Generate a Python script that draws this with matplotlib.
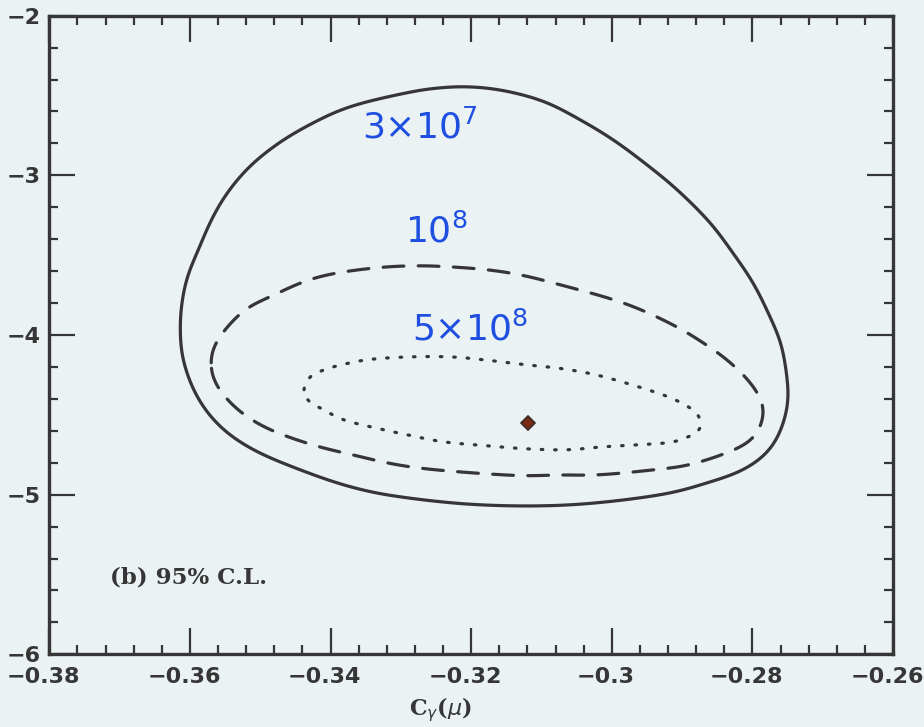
import matplotlib
matplotlib.use("Agg")
import matplotlib.pyplot as plt
import matplotlib.transforms as mtransforms
from matplotlib.patches import Polygon
import numpy as np
from matplotlib.ticker import MultipleLocator, FixedLocator

# ---------------- data ----------------
solid_x = [-0.3614, -0.3611, -0.3603, -0.3588, -0.3571, -0.3550, -0.3520, -0.3485,
           -0.3443, -0.3377, -0.3291, -0.3244, -0.3201, -0.3152, -0.3095, -0.3045,
           -0.2998, -0.2950, -0.2907, -0.2860, -0.2828, -0.2799, -0.2775, -0.2758,
           -0.2749, -0.2751, -0.2761, -0.2779, -0.2813, -0.2860, -0.2931, -0.3059,
           -0.3187, -0.3301, -0.3372, -0.3443, -0.3510, -0.3557, -0.3590, -0.3610]
solid_y = [-3.949, -3.780, -3.623, -3.466, -3.291, -3.128, -2.965, -2.833,
           -2.714, -2.576, -2.482, -2.451, -2.445, -2.470, -2.539, -2.652,
           -2.777, -2.934, -3.090, -3.297, -3.485, -3.673, -3.886, -4.074,
           -4.343, -4.469, -4.613, -4.738, -4.845, -4.920, -5.001, -5.064,
           -5.064, -5.014, -4.951, -4.845, -4.719, -4.575, -4.387, -4.155]

dashed_x = [-0.3571, -0.3567, -0.3547, -0.3519, -0.3486, -0.3443, -0.3411, -0.3372,
            -0.3320, -0.3273, -0.3230, -0.3177, -0.3130, -0.3084, -0.2984, -0.2913,
            -0.2870, -0.2836, -0.2806, -0.2789, -0.2783, -0.2786, -0.2800, -0.2836,
            -0.2889, -0.2927, -0.3017, -0.3074, -0.3121, -0.3177, -0.3234, -0.3277,
            -0.3320, -0.3368, -0.3411, -0.3448, -0.3486, -0.3519, -0.3547, -0.3567]
dashed_y = [-4.174, -4.074, -3.949, -3.830, -3.761, -3.673, -3.629, -3.598,
            -3.573, -3.566, -3.573, -3.591, -3.623, -3.673, -3.798, -3.936,
            -4.049, -4.155, -4.281, -4.387, -4.450, -4.550, -4.657, -4.738,
            -4.813, -4.838, -4.876, -4.876, -4.882, -4.870, -4.851, -4.832,
            -4.801, -4.751, -4.707, -4.657, -4.594, -4.513, -4.406, -4.281]

dotted_x = [-0.3439, -0.3429, -0.3412, -0.3396, -0.3348, -0.3287, -0.3230, -0.3183,
            -0.3121, -0.3069, -0.3011, -0.2927, -0.2891, -0.2877, -0.2872, -0.2884,
            -0.2900, -0.2920, -0.3011, -0.3064, -0.3121, -0.3177, -0.3240, -0.3291,
            -0.3330, -0.3382, -0.3412, -0.3429, -0.3439]
dotted_y = [-4.343, -4.256, -4.224, -4.199, -4.155, -4.137, -4.137, -4.155,
            -4.187, -4.212, -4.262, -4.375, -4.450, -4.500, -4.575, -4.625,
            -4.650, -4.675, -4.700, -4.719, -4.713, -4.694, -4.669, -4.625,
            -4.588, -4.531, -4.462, -4.425, -4.368]

best_x = [-0.3119]
best_y = [-4.550]

contour_labels = [r"3$\times$10$^{7}$", r"10$^{8}$", r"5$\times$10$^{8}$"]
label_x = [-0.3273, -0.3250, -0.3202]
label_y = [-2.702, -3.353, -3.967]

x_ticks = [-0.38, -0.36, -0.34, -0.32, -0.30, -0.28, -0.26]
x_ticklabels = ["\u22120.38", "\u22120.36", "\u22120.34", "\u22120.32", "\u22120.3", "\u22120.28", "\u22120.26"]
y_ticks = [-6, -5, -4, -3, -2]
y_ticklabels = ["\u22126", "\u22125", "\u22124", "\u22123", "\u22122"]


def smooth_closed(xs, ys, n=16, sigma=0.012):
    """Closed smooth curve through the read points (drawing only):
    Catmull-Rom, resampled by arc length, then a light circular Gaussian blur."""
    sx, sy = 0.12, 4.0 * 843.7 / 638.3
    p = np.column_stack([np.asarray(xs) / sx, np.asarray(ys) / sy])
    m = len(p)
    out = []
    t = np.linspace(0, 1, n, endpoint=False)[:, None]
    for i in range(m):
        p0, p1, p2, p3 = p[(i - 1) % m], p[i], p[(i + 1) % m], p[(i + 2) % m]
        seg = 0.5 * ((2 * p1) + (-p0 + p2) * t + (2 * p0 - 5 * p1 + 4 * p2 - p3) * t ** 2
                     + (-p0 + 3 * p1 - 3 * p2 + p3) * t ** 3)
        out.append(seg)
    c = np.vstack(out + [p[:1]])
    d = np.r_[0, np.cumsum(np.hypot(*np.diff(c, axis=0).T))]
    L = d[-1]
    N = 1200
    s = np.linspace(0, L, N, endpoint=False)
    u = np.column_stack([np.interp(s, d, c[:, 0]), np.interp(s, d, c[:, 1])])
    ds = L / N
    k = int(np.ceil(3 * sigma / ds))
    off = np.arange(-k, k + 1)
    w = np.exp(-0.5 * (off * ds / sigma) ** 2)
    w /= w.sum()
    sm = np.zeros_like(u)
    for o, wi in zip(off, w):
        sm += wi * np.roll(u, o, axis=0)
    return np.column_stack([sm[:, 0] * sx, sm[:, 1] * sy])


# ---------------- style ----------------
bg = "#eaf2f4"
ink = "#363636"
blue = "#1f4fe0"

fig = plt.figure(figsize=(9.24, 7.27), dpi=100, facecolor=bg)
ax = fig.add_axes([0.0534, 0.1000, 0.9131, 0.8784])
ax.set_facecolor(bg)

ax.add_patch(Polygon(smooth_closed(solid_x, solid_y), closed=True, fill=False,
                     edgecolor=ink, lw=2.3, joinstyle="round"))
ax.add_patch(Polygon(smooth_closed(dashed_x, dashed_y), closed=True, fill=False,
                     edgecolor=ink, lw=2.3, linestyle=(0, (6.5, 4.5)), capstyle="round"))
ax.add_patch(Polygon(smooth_closed(dotted_x, dotted_y, sigma=0.006), closed=True, fill=False,
                     edgecolor=ink, lw=2.3, linestyle=(0, (0.5, 3.7)), capstyle="round"))
ax.plot(best_x, best_y, marker="D", ms=7, color="#7a2a14", mec="#3a2a2a", mew=1.2, ls="none")

for t, x, y in zip(contour_labels, label_x, label_y):
    ax.text(x, y, t, color=blue, fontsize=26, ha="center", va="center",
            family="DejaVu Sans")

ax.text(0.072, 0.121, "(b) 95% C.L.", transform=ax.transAxes, fontsize=16.5,
        fontweight="bold", family="DejaVu Serif", color=ink, ha="left", va="center")

ax.set_xlim(-0.38, -0.26)
ax.set_ylim(-6, -2)
ax.xaxis.set_major_locator(FixedLocator(x_ticks))
ax.yaxis.set_major_locator(FixedLocator(y_ticks))
ax.xaxis.set_minor_locator(MultipleLocator(0.004))
ax.yaxis.set_minor_locator(MultipleLocator(0.2))
ax.set_xticklabels(x_ticklabels)
ax.set_yticklabels(y_ticklabels)

ax.tick_params(which="both", direction="in", top=True, right=True, color=ink)
ax.tick_params(which="major", length=19, width=1.6, labelsize=16, labelcolor=ink)
ax.tick_params(which="minor", length=6.5, width=1.6)
ax.tick_params(axis="x", pad=9)
ax.tick_params(axis="y", pad=6)
shift_x = mtransforms.ScaledTranslation(-6 / 100, 0, fig.dpi_scale_trans)
for lab in ax.get_xticklabels():
    lab.set_fontweight("bold")
    lab.set_transform(lab.get_transform() + shift_x)
for lab in ax.get_yticklabels():
    lab.set_fontweight("bold")
for s in ax.spines.values():
    s.set_linewidth(2.4)
    s.set_color(ink)

fig.text(440 / 924, 1 - 710 / 727, r"C$_\gamma$($\mu$)", fontsize=16, fontweight="bold",
         family="DejaVu Serif", color=ink, ha="center", va="center")

fig.savefig("out.png", dpi=100, facecolor=bg)
